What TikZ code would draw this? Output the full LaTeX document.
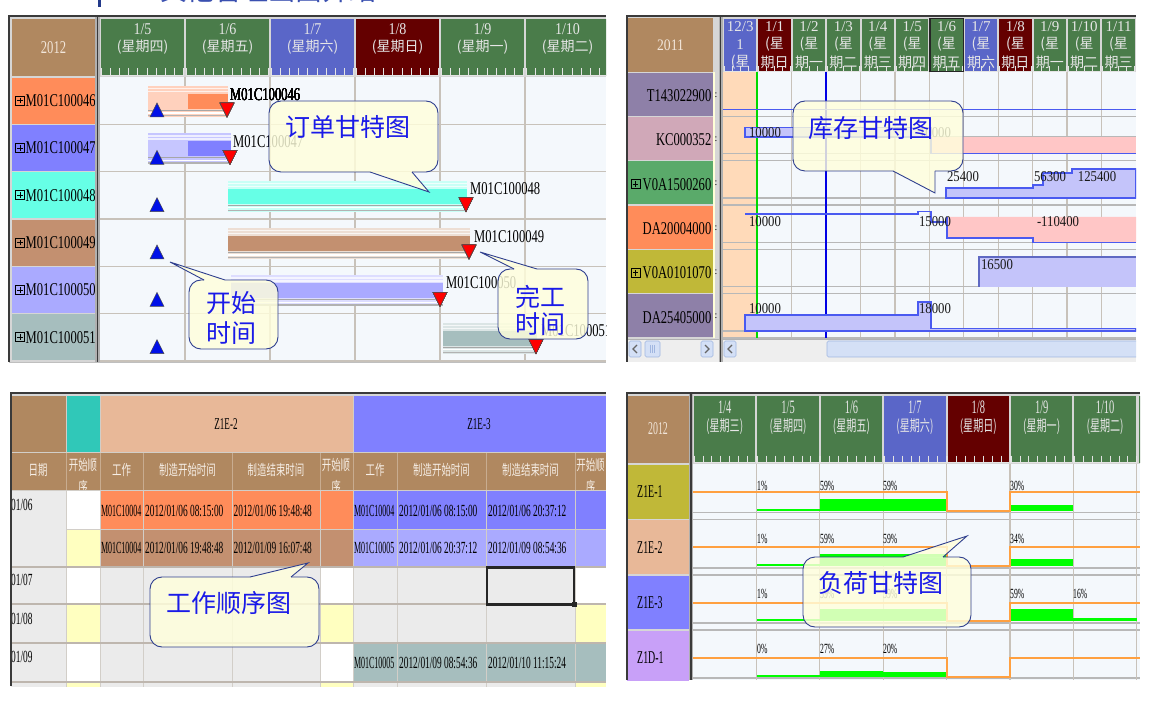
\documentclass[tikz,border=0pt]{standalone}
\usepackage{fontspec}
\setmainfont{Liberation Serif}
\newfontfamily\cjk{Noto Sans CJK SC}
\newfontfamily\cjkn[FakeStretch=0.65]{Noto Sans CJK SC}
\newfontfamily\fA[FakeStretch=0.55]{Liberation Serif}
\newfontfamily\fAA[FakeStretch=0.47]{Liberation Serif}
\newfontfamily\fB[FakeStretch=0.7]{Liberation Serif}
\newfontfamily\fC[FakeStretch=0.85]{Liberation Serif}
\newcommand{\fsz}[1]{\fontsize{#1}{#1}\selectfont}
\definecolor{hgreen}{HTML}{4A7C4A}
\definecolor{hblue}{HTML}{5A66C8}
\definecolor{hred}{HTML}{640000}
\definecolor{hbrown}{HTML}{B08860}
\definecolor{gridbg}{HTML}{F4F8FC}
\definecolor{gridln}{HTML}{C8C2BA}
\definecolor{gridln2}{HTML}{B8B8B8}
\definecolor{frm}{HTML}{3A3A3A}
\definecolor{sepgray}{HTML}{B0B0B0}
\definecolor{panelgray}{HTML}{D6D6D6}
\definecolor{hdrtext}{HTML}{E6E6E6}
\definecolor{yeartext}{HTML}{F2E6DA}
\definecolor{thdrtext}{HTML}{F6EEE6}
\definecolor{tickcol}{HTML}{E4E4E4}
\definecolor{corange}{HTML}{FF8C5A}
\definecolor{cperi}{HTML}{8080FF}
\definecolor{caqua}{HTML}{66FFE6}
\definecolor{ctan}{HTML}{C39070}
\definecolor{cperil}{HTML}{AAAAFF}
\definecolor{cteal}{HTML}{A6BEBE}
\definecolor{cpurp}{HTML}{8E80A8}
\definecolor{cmauve}{HTML}{D0A8B8}
\definecolor{cgreen}{HTML}{5AAA6A}
\definecolor{colive}{HTML}{C0B838}
\definecolor{csalm}{HTML}{E8B898}
\definecolor{cteal2}{HTML}{30C8B8}
\definecolor{clav}{HTML}{C8A0F8}
\definecolor{cellgray}{HTML}{EBEBEB}
\definecolor{cellyel}{HTML}{FFFFC0}
\definecolor{paleyel}{HTML}{FFFFD8}
\definecolor{peach}{HTML}{FFDAB9}
\definecolor{calloutfill}{HTML}{FFFFDC}
\definecolor{calloutdraw}{HTML}{2F3F8F}
\definecolor{callouttext}{HTML}{1A1AE8}
\definecolor{invblue}{HTML}{4A5AF0}
\definecolor{invfill}{HTML}{C4C4FA}
\definecolor{invpink}{HTML}{FFC6C6}
\definecolor{loadorange}{HTML}{FFA040}
\definecolor{loadgreen}{HTML}{00FF00}
\definecolor{triblue}{HTML}{0010E8}
\definecolor{trired}{HTML}{FF0000}
\definecolor{titleblue}{HTML}{3A50B0}
\definecolor{titlebar}{HTML}{233A8A}
\definecolor{scrollbg}{HTML}{EEEEEE}
\definecolor{scrollbtn}{HTML}{D4E0F6}
\definecolor{scrollbd}{HTML}{A0B6E0}
\definecolor{tline}{HTML}{D2CEC8}
\definecolor{tsep}{HTML}{BEB6AE}
\tikzset{
  hdr/.style={text=hdrtext, inner sep=0},
  gline/.style={draw=gridln, line width=1.2pt},
  gline2/.style={draw=gridln2, line width=1.3pt},
  callfill/.style={fill=calloutfill, fill opacity=0.82},
  callline/.style={draw=calloutdraw, line width=0.9pt},
  calltext/.style={text=callouttext, font=\cjk\fsz{25}, inner sep=0, align=center},
  inv/.style={draw=invblue, line width=1.4pt, fill=invfill},
  invln/.style={draw=invblue, line width=1.4pt},
  lbl/.style={inner sep=0, anchor=west, font=\fB\fsz{18}},
  numl/.style={inner sep=0, font=\fC\fsz{15}, text=black!90},
  tab/.style={inner sep=0, anchor=west, font=\fA\fsz{17}},
  tabm/.style={inner sep=0, anchor=west, font=\fAA\fsz{17}},
  thdr/.style={inner sep=0, text=thdrtext, font=\cjkn\fsz{14.5}},
  pct/.style={inner sep=0, anchor=west, font=\fA\fsz{14}},
  tickc/.style={draw=tickcol, line width=0.7pt},
  tl/.style={draw=tline, line width=1pt},
  ts/.style={draw=tsep, line width=2pt},
  btn/.style={fill=scrollbtn, draw=scrollbd, line width=0.6pt, rounded corners=1.5pt},
  chev/.style={draw=black!60, line width=1.2pt}
}
\newcommand{\plusbox}[2]{\draw[black, line width=0.6pt] (#1-4.5,#2-4.5) rectangle (#1+4.5,#2+4.5);
  \draw[black, line width=0.8pt] (#1-2.8,#2) -- (#1+2.8,#2) (#1,#2-2.8) -- (#1,#2+2.8);}
\newcommand{\gbar}[5]{%
  \fill[#5] (#1,#3+9) rectangle (#2,#3+40);
  \fill[white,opacity=0.7] (#1,#3+11) rectangle (#2,#3+12.2);
  \fill[white,opacity=0.7] (#1,#3+14) rectangle (#2,#3+15.2);
  \fill[#4] (#1,#3+17) rectangle (#2,#3+32);
  \fill[black!35] (#1,#3+33) rectangle (#2,#3+34);
  \fill[white] (#1,#3+35.5) rectangle (#2,#3+36.7);
  \fill[black!30] (#1,#3+38) rectangle (#2,#3+39.2);}
\newcommand{\tup}[2]{\filldraw[fill=triblue, draw=black!70, line width=0.5pt] (#1-7,#2+40) -- (#1+7,#2+40) -- (#1,#2+26) -- cycle;}
\newcommand{\tdn}[2]{\filldraw[fill=trired, draw=black!70, line width=0.5pt] (#1-7,#2+26) -- (#1+7,#2+26) -- (#1,#2+40) -- cycle;}
\newcommand{\callB}[8]{%
  \fill[callfill, rounded corners=12pt] (#1,#2) rectangle (#3,#4);
  \fill[callfill] (#5,#4) -- (#7,#8) -- (#6,#4) -- cycle;
  \draw[callline, rounded corners=12pt] (#6,#4) -- (#3,#4) -- (#3,#2) -- (#1,#2) -- (#1,#4) -- (#5,#4);
  \draw[callline] (#5,#4) -- (#7,#8) -- (#6,#4);}
\newcommand{\callT}[8]{%
  \fill[callfill, rounded corners=12pt] (#1,#2) rectangle (#3,#4);
  \fill[callfill] (#5,#2) -- (#7,#8) -- (#6,#2) -- cycle;
  \draw[callline, rounded corners=12pt] (#6,#2) -- (#3,#2) -- (#3,#4) -- (#1,#4) -- (#1,#2) -- (#5,#2);
  \draw[callline] (#5,#2) -- (#7,#8) -- (#6,#2);}
\begin{document}
\begin{tikzpicture}[x=1pt,y=-1pt]
\useasboundingbox (0,0) rectangle (1170,708);
\fill[white] (0,0) rectangle (1170,708);
% ---------- title (cut off) ----------
\begin{scope}
\clip (0,0) rectangle (1170,708);
\node[anchor=base west, inner sep=0, text=titleblue, font=\cjk\fsz{27}] (title) at (160,0.5) {其他管理画面介绍};
\end{scope}
\fill[titlebar] (97.5,0) rectangle (100.5,7);

% ================= PANEL 1: order gantt =================
\begin{scope}
\clip (9,16) rectangle (606,362);
\fill[panelgray] (9,16) rectangle (606,362);
\fill[gridbg] (100,77) rectangle (606,362);
\fill[hbrown] (12,19) rectangle (95,76);
\node[hdr, text=yeartext, font=\fB\fsz{18}] (p1year) at (53.5,47.5) {2012};
\foreach \i/\cl/\da/\db in {0/hgreen/{1/5}/星期四,1/hgreen/{1/6}/星期五,2/hblue/{1/7}/星期六,3/hred/{1/8}/星期日,4/hgreen/{1/9}/星期一,5/hgreen/{1/10}/星期二}{
  \pgfmathsetmacro\xa{100+85*\i}
  \fill[\cl] (\xa+1,19) rectangle (\xa+84,76);
  \node[hdr, font=\fC\fsz{16.5}] (p1d\i) at (\xa+42.5,29) {\da};
  \node[hdr, font=\cjk\fsz{14}] (p1w\i) at (\xa+42.5,47) {(\db)};
  \foreach \k in {0,...,9} \draw[tickc] (\xa+1+9.2*\k,68) -- (\xa+1+9.2*\k,75);
  \draw[tickc] (\xa+1,75) -- (\xa+84,75);
}
\foreach \k/\cl/\tx in {0/corange/M01C100046,1/cperi/M01C100047,2/caqua/M01C100048,3/ctan/M01C100049,4/cperil/M01C100050,5/cteal/M01C100051}{
  \pgfmathsetmacro\ya{77+47.33*\k}
  \fill[\cl] (12,\ya+0.6) rectangle (95,\ya+46.8);
  \plusbox{20}{\ya+23.6}
  \node[lbl] (p1r\k) at (25.5,\ya+23.6) {\tx};
  \draw[gline] (100,\ya+47.33) -- (606,\ya+47.33);
}
\foreach \x in {185,270,355,440,525} \draw[gline] (\x,77) -- (\x,362);
\fill[sepgray] (95,16) rectangle (100,362);
\draw[frm, line width=1.6pt] (97.5,16) -- (97.5,362);
% bars
\gbar{148}{228}{77}{corange!40!white}{corange!40!white}
\fill[corange] (188,94) rectangle (228,109);
\gbar{148}{231}{124.33}{cperi!45!white}{cperi!45!white}
\fill[cperi] (188,141) rectangle (231,156);
\gbar{228}{467}{171.67}{caqua}{caqua!35!white}
\gbar{228}{470}{219}{ctan}{ctan!30!white}
\gbar{231}{443}{266.33}{cperil}{cperil!40!white}
\gbar{443}{537}{313.67}{cteal}{cteal!40!white}
\foreach \ya in {77,124.33,171.67,219,266.33,313.67} \tup{157}{\ya}
\tdn{227}{77} \tdn{230}{124.33} \tdn{466}{171.67} \tdn{469}{219} \tdn{440}{266.33} \tdn{536}{313.67}
\node[lbl] (b46) at (230,95) {M01C100046};
\node[lbl] (b47) at (233,142) {M01C100047};
\node[lbl] (b48) at (470,189) {M01C100048};
\node[lbl] (b49) at (474,237) {M01C100049};
\node[lbl] (b50) at (446,283) {M01C100050};
\node[lbl] (b51) at (541,331) {M01C100051};
% callouts
\callB{269}{101}{438}{172}{370}{412}{429}{192}
\node[calltext] (c1) at (348,127) {订单甘特图};
\callT{189}{280}{278}{349}{204}{225}{170}{262}
\node[calltext, font=\cjk\fontsize{25}{30}\selectfont] (c2) at (231,318) {开始\\时间};
\callT{498}{269}{588}{339}{514}{537}{480}{252}
\node[calltext, font=\cjk\fontsize{25}{27}\selectfont] (c3) at (540,310) {完工\\时间};
\end{scope}
\draw[frm, line width=2pt] (9,362) -- (9,16) -- (606,16);
\draw[gray!50] (9,362) -- (606,362);

% ================= PANEL 2: inventory gantt =================
\begin{scope}
\clip (626,16) rectangle (1136,362);
\fill[panelgray] (626,16) rectangle (1136,362);
\fill[hbrown] (628,18) rectangle (713,72);
\node[hdr, text=yeartext, font=\fC\fsz{16}] (p2year) at (670.5,45.5) {2011};
\fill[hblue] (724,19) rectangle (756.4,72);
\node[hdr, font=\fsz{15}] (p2d0) at (740.2,27) {12/3};
\node[hdr, font=\fsz{15}] (p2e0) at (740.2,44.5) {1};
\node[hdr, font=\cjk\fsz{14}] (p2f0) at (740.2,62) {(星};
\foreach \i/\cl/\da/\db in {1/hred/{1/1}/期日,2/hgreen/{1/2}/期一,3/hgreen/{1/3}/期二,4/hgreen/{1/4}/期三,5/hgreen/{1/5}/期四,6/hgreen/{1/6}/期五,7/hblue/{1/7}/期六,8/hred/{1/8}/期日,9/hgreen/{1/9}/期一,10/hgreen/{1/10}/期二,11/hgreen/{1/11}/期三}{
  \pgfmathsetmacro\xa{723+34.4*\i}
  \fill[\cl] (\xa+1,19) rectangle (\xa+33.4,72);
  \node[hdr, font=\fsz{15}] (p2d\i) at (\xa+17.2,27) {\da};
  \node[hdr, font=\cjk\fsz{14}] (p2e\i) at (\xa+17.2,44.5) {(星};
  \node[hdr, font=\cjk\fsz{14}] (p2f\i) at (\xa+17.2,62) {\db};
}
\foreach \i in {0,...,11}{
  \pgfmathsetmacro\xa{723+34.4*\i}
  \foreach \k in {0,...,4} \draw[tickc] (\xa+1+8.1*\k,66.5) -- (\xa+1+8.1*\k,72);
  \draw[tickc] (\xa+1,71.5) -- (\xa+33.4,71.5);
}
\draw[black!85, line width=1.2pt] (930,18.6) rectangle (963.2,72);
% row headers
\foreach \k/\cl/\tx in {0/cpurp/T143022900,1/cmauve/KC000352,2/cgreen/V0A1500260,3/corange/DA20004000,4/colive/V0A0101070,5/cpurp/DA25405000}{
  \pgfmathsetmacro\ya{72+44.33*\k}
  \fill[\cl] (628,\ya+0.6) rectangle (713,\ya+43.7);
  \node[lbl, anchor=east] (p2r\k) at (711.5,\ya+23.5) {\tx};
  \node[inner sep=0, font=\fsz{10}] (p2c\k) at (716,\ya+23) {:};
}
\fill[paleyel] (713,72) rectangle (714.5,338);
\plusbox{635.5}{184.2}
\plusbox{635.5}{272.8}
% grid
\fill[gridbg] (723,72) rectangle (1136,338);
\fill[peach] (723,72) rectangle (757,338);
\foreach \i in {1,...,11} \draw[gline] (723+34.4*\i,72) -- (723+34.4*\i,338);
\foreach \k in {1,...,6}{
  \pgfmathsetmacro\yb{72+44.33*\k}
  \draw[gline2] (723,\yb-7) -- (1136,\yb-7);
  \draw[gline2] (723,\yb) -- (1136,\yb);
}
\draw[draw=green!85!black, line width=1.6pt] (757,72) -- (757,338);
\draw[draw=blue!90!black, line width=1.8pt] (826,72) -- (826,338);
% T143022900
\draw[invln] (723,109.3) -- (1136,109.3);
% KC000352
\filldraw[inv] (745,127.5) rectangle (931,137);
\fill[invpink] (931,137) rectangle (1136,153.7);
\draw[gridln2, line width=1pt] (931,137) -- (1136,137);
\draw[invln] (931,137) -- (931,153.7) -- (1136,153.7);
\node[numl] (kc1) at (765,133) {10000};
\node[numl] (kc2) at (935,133) {10000};
% V0A1500260
\filldraw[inv] (946,198) -- (946,188) -- (1033,188) -- (1033,185) -- (1043,185) -- (1043,173) -- (1072,173) -- (1072,169) -- (1136,169) -- (1136,198) -- cycle;
\node[numl] (v1) at (963,177) {25400};
\node[numl] (v2) at (1050,177) {56300};
\node[numl] (v3) at (1097,177) {125400};
% DA20004000
\draw[invln] (745,214) -- (918,214) -- (918,211.5) -- (931,211.5) -- (931,222) -- (947,222);
\fill[invpink] (947,217) -- (1136,217) -- (1136,242.3) -- (1033,242.3) -- (1033,238) -- (947,238) -- cycle;
\draw[invln] (947,217) -- (947,238) -- (1033,238) -- (1033,242.3) -- (1136,242.3);
\node[numl] (da1) at (765,222) {10000};
\node[numl] (da2) at (935,222) {15000};
\node[numl] (da3) at (1058,222) {-110400};
% V0A0101070
\fill[invfill] (979,257) rectangle (1136,286.7);
\draw[invblue!60!gray, line width=1.2pt] (979,286.7) -- (979,257) -- (1136,257);
\node[numl] (va1) at (997,265) {16500};
% DA25405000
\filldraw[inv] (745,331) -- (745,315) -- (918,315) -- (918,302) -- (931,302) -- (931,328.5) -- (1136,328.5) -- (1136,331) -- cycle;
\node[numl] (db1) at (765,309) {10000};
\node[numl] (db2) at (935,309) {18000};
% scrollbars
\fill[scrollbg] (628,339) rectangle (1136,362);
\draw[gray!60] (628,339) -- (1136,339);
\path[btn] (629,341) rectangle (641,357);
\draw[chev] (637,345) -- (633,349) -- (637,353);
\path[btn] (645,341) rectangle (660,357);
\foreach \k in {0,1,2} \draw[scrollbd] (650+2.2*\k,345) -- (650+2.2*\k,353);
\path[btn] (701,341) rectangle (713,357);
\draw[chev] (705,345) -- (709,349) -- (705,353);
\path[btn] (724,341) rectangle (736,357);
\draw[chev] (732,345) -- (728,349) -- (732,353);
\path[btn] (827,341) rectangle (1140,357);
\fill[sepgray] (719,16) rectangle (723,362);
\draw[frm, line width=1.6pt] (720.5,16) -- (720.5,362);
% callout
\callB{793}{101}{963}{171}{893}{935}{935}{193}
\node[calltext] (c4) at (871,128) {库存甘特图};
\end{scope}
\draw[frm, line width=2pt] (626.5,362) -- (626.5,16.5) -- (1136,16.5);

% ================= PANEL 3: work order table =================
\begin{scope}
\clip (10,393) rectangle (606,686);
\fill[panelgray] (10,393) rectangle (606,686);
\fill[hbrown] (11,396) rectangle (65.5,452);
\fill[cteal2] (66,396) rectangle (99.5,452);
\fill[csalm] (100,396) rectangle (352.5,452);
\fill[cperi] (353,396) rectangle (606,452);
\node[inner sep=0, font=\fA\fsz{16.5}] (zb2) at (226,424) {Z1E-2};
\node[inner sep=0, font=\fA\fsz{16.5}] (zb3) at (479,424) {Z1E-3};
\fill[hbrown] (11,453) rectangle (606,490);
\foreach \x in {66,100,143,232,320,353,397,486,575} \draw[draw=hbrown!70!white, line width=1pt] (\x,453) -- (\x,490);
\node[thdr] (h1) at (38,470) {日期};
\node[thdr] (h2) at (83,465) {开始顺};
\node[thdr] (h2b) at (83,487) {序};
\node[thdr] (h3) at (121.5,470) {工作};
\node[thdr] (h4) at (187.5,470) {制造开始时间};
\node[thdr] (h5) at (276,470) {制造结束时间};
\node[thdr] (h6) at (336,465) {开始顺};
\node[thdr] (h6b) at (336,487) {序};
\node[thdr] (h7) at (375,470) {工作};
\node[thdr] (h8) at (441.5,470) {制造开始时间};
\node[thdr] (h9) at (530.5,470) {制造结束时间};
\node[thdr] (h10) at (590.5,465) {开始顺};
\node[thdr] (h10b) at (590.5,487) {序};
% data rows
\fill[cellgray] (11,490) rectangle (65.5,690);
\fill[white] (66,490) rectangle (99.5,529);
\fill[corange] (100,490) rectangle (352.5,529);
\fill[cperi] (353,490) rectangle (606,529);
\fill[cellyel] (66,529) rectangle (99.5,567);
\fill[ctan] (100,529) rectangle (352.5,567);
\fill[cperil] (353,529) rectangle (606,567);
\fill[cellgray] (100,567) rectangle (606,690);
\foreach \ya/\yb/\cl in {567/604/white,604/643/cellyel,643/682/white,682/690/cellyel}{
  \fill[\cl] (66,\ya) rectangle (99.5,\yb);
  \fill[\cl] (320,\ya) rectangle (352.5,\yb);
  \fill[\cl] (575,\ya) rectangle (606,\yb);
}
\fill[cteal] (353,643) rectangle (606,682);
\foreach \x in {66,100,143,232,320,353,397,486,575} \draw[tl] (\x,490) -- (\x,690);
\foreach \x in {66,100,353} \draw[tl] (\x,396) -- (\x,453);
\draw[tl] (11,452.5) -- (606,452.5);
\draw[tl] (11,490) -- (606,490);
\draw[tl] (66,529) -- (606,529);
\foreach \y in {567,604,643,682} \draw[ts] (11,\y) -- (606,\y);
\draw[black!85, line width=2.5pt] (487,567.5) rectangle (574,604.5);
\fill[black!85] (572,602) rectangle (577,607);
% texts
\node[tab, anchor=north west] (d06) at (11,499) {01/06};
\node[tab, anchor=north west] (d07) at (11,574) {01/07};
\node[tab, anchor=north west] (d08) at (11,613) {01/08};
\node[tab, anchor=north west] (d09) at (11,651) {01/09};
\node[tabm] (a1) at (100.8,511) {M01C10004};
\node[tab] (a2) at (145,511) {2012/01/06 08:15:00};
\node[tab] (a3) at (233.5,511) {2012/01/06 19:48:48};
\node[tabm] (a4) at (353.8,511) {M01C10004};
\node[tab] (a5) at (399,511) {2012/01/06 08:15:00};
\node[tab] (a6) at (488,511) {2012/01/06 20:37:12};
\node[tabm] (b1) at (100.8,548) {M01C10004};
\node[tab] (b2) at (145,548) {2012/01/06 19:48:48};
\node[tab] (b3) at (233.5,548) {2012/01/09 16:07:48};
\node[tabm] (b4) at (353.8,548) {M01C10005};
\node[tab] (b5) at (399,548) {2012/01/06 20:37:12};
\node[tab] (b6) at (488,548) {2012/01/09 08:54:36};
\node[tabm] (e4) at (353.8,663) {M01C10005};
\node[tab] (e5) at (399,663) {2012/01/09 08:54:36};
\node[tab] (e6) at (488,663) {2012/01/10 11:15:24};
\callT{150}{577}{319}{647}{250}{291}{308}{563}
\node[calltext] (c5) at (229,603) {工作顺序图};
\end{scope}
\draw[frm, line width=2pt] (10.5,686) -- (10.5,393.5) -- (606,393.5);

% ================= PANEL 4: load gantt =================
\begin{scope}
\clip (626,393) rectangle (1140,680);
\fill[panelgray] (626,393) rectangle (1140,680);
\fill[gridbg] (693,464) rectangle (1140,680);
\fill[hbrown] (627,396) rectangle (689,463);
\node[hdr, text=yeartext, font=\fA\fsz{18}] (p4year) at (658,429) {2012};
\foreach \i/\cl/\da/\db in {0/hgreen/{1/4}/星期三,1/hgreen/{1/5}/星期四,2/hgreen/{1/6}/星期五,3/hblue/{1/7}/星期六,4/hred/{1/8}/星期日,5/hgreen/{1/9}/星期一,6/hgreen/{1/10}/星期二}{
  \pgfmathsetmacro\xa{693+63.4*\i}
  \fill[\cl] (\xa+1,396) rectangle (\xa+62.4,463);
  \node[hdr, font=\fA\fsz{19}] (p4d\i) at (\xa+31.7,407) {\da};
  \node[hdr, font=\cjkn\fsz{15.5}] (p4w\i) at (\xa+31.7,427) {(\db)};
  \foreach \k in {0,...,7} \draw[tickc] (\xa+1+8.9*\k,455.5) -- (\xa+1+8.9*\k,463);
  \draw[tickc] (\xa+1,462.5) -- (\xa+62.4,462.5);
}
\fill[hgreen] (1138.8,396) rectangle (1141,463);
\foreach \k/\cl/\tx/\ya/\yb in {0/colive/Z1E-1/464/519.5,1/csalm/Z1E-2/519.5/575,2/cperi/Z1E-3/575/630,3/clav/Z1D-1/630/685}{
  \pgfmathsetmacro\ym{(\ya+\yb)/2}
  \fill[\cl] (627,\ya+0.6) rectangle (689,\yb-0.6);
  \node[inner sep=0, anchor=west, font=\fA\fsz{18}] (p4r\k) at (637,\ym) {\tx};
  \draw[gline2] (693,\yb-7) -- (1140,\yb-7);
  \draw[gline2] (693,\yb) -- (1140,\yb);
}
\foreach \i in {1,...,7} \draw[gline] (693+63.4*\i,464) -- (693+63.4*\i,680);
\fill[sepgray] (689,393) rectangle (693,680);
\draw[frm, line width=1.6pt] (691,393) -- (691,680);
% Z1E-1
\fill[loadgreen] (757,509) rectangle (820,511);
\fill[loadgreen] (820,499) rectangle (947,511);
\fill[loadgreen] (1010,505) rectangle (1073,511);
\draw[loadorange, line width=1.3pt] (693,492) -- (947,492) -- (947,511) -- (1010,511) -- (1010,492) -- (1140,492);
\node[pct] (q11) at (757,486) {1\%};
\node[pct] (q12) at (820,486) {59\%};
\node[pct] (q13) at (883,486) {59\%};
\node[pct] (q14) at (1010,486) {30\%};
% Z1E-2
\fill[loadgreen] (757,564) rectangle (820,566);
\fill[loadgreen] (820,554) rectangle (947,566);
\fill[loadgreen] (1010,559) rectangle (1073,566);
\draw[loadorange, line width=1.3pt] (693,547) -- (947,547) -- (947,566) -- (1010,566) -- (1010,547) -- (1140,547);
\node[pct] (q21) at (757,539) {1\%};
\node[pct] (q22) at (820,539) {59\%};
\node[pct] (q23) at (883,539) {59\%};
\node[pct] (q24) at (1010,539) {34\%};
% Z1E-3
\fill[loadgreen] (757,619) rectangle (820,621);
\fill[loadgreen] (820,609) rectangle (947,621);
\fill[loadgreen] (1010,609) rectangle (1073,621);
\fill[loadgreen] (1073,618) rectangle (1137,621);
\draw[loadorange, line width=1.3pt] (693,603) -- (947,603) -- (947,621) -- (1010,621) -- (1010,603) -- (1140,603);
\node[pct] (q31) at (757,594) {1\%};
\node[pct] (q32) at (820,594) {59\%};
\node[pct] (q33) at (883,594) {59\%};
\node[pct] (q34) at (1010,594) {59\%};
\node[pct] (q35) at (1073,594) {16\%};
% Z1D-1
\fill[loadgreen] (757,675) rectangle (820,677);
\fill[loadgreen] (820,671) rectangle (883,677);
\fill[loadgreen] (883,672) rectangle (947,677);
\draw[loadorange, line width=1.3pt] (693,658) -- (947,658) -- (947,677) -- (1010,677) -- (1010,658) -- (1140,658);
\node[pct] (q41) at (757,649) {0\%};
\node[pct] (q42) at (820,649) {27\%};
\node[pct] (q43) at (883,649) {20\%};
\callT{803}{557}{971}{627}{903}{943}{967}{536}
\node[calltext] (c6) at (881,583) {负荷甘特图};
\end{scope}
\draw[frm, line width=2pt] (626.5,680) -- (626.5,393.5) -- (1140,393.5);
\end{tikzpicture}
\end{document}
